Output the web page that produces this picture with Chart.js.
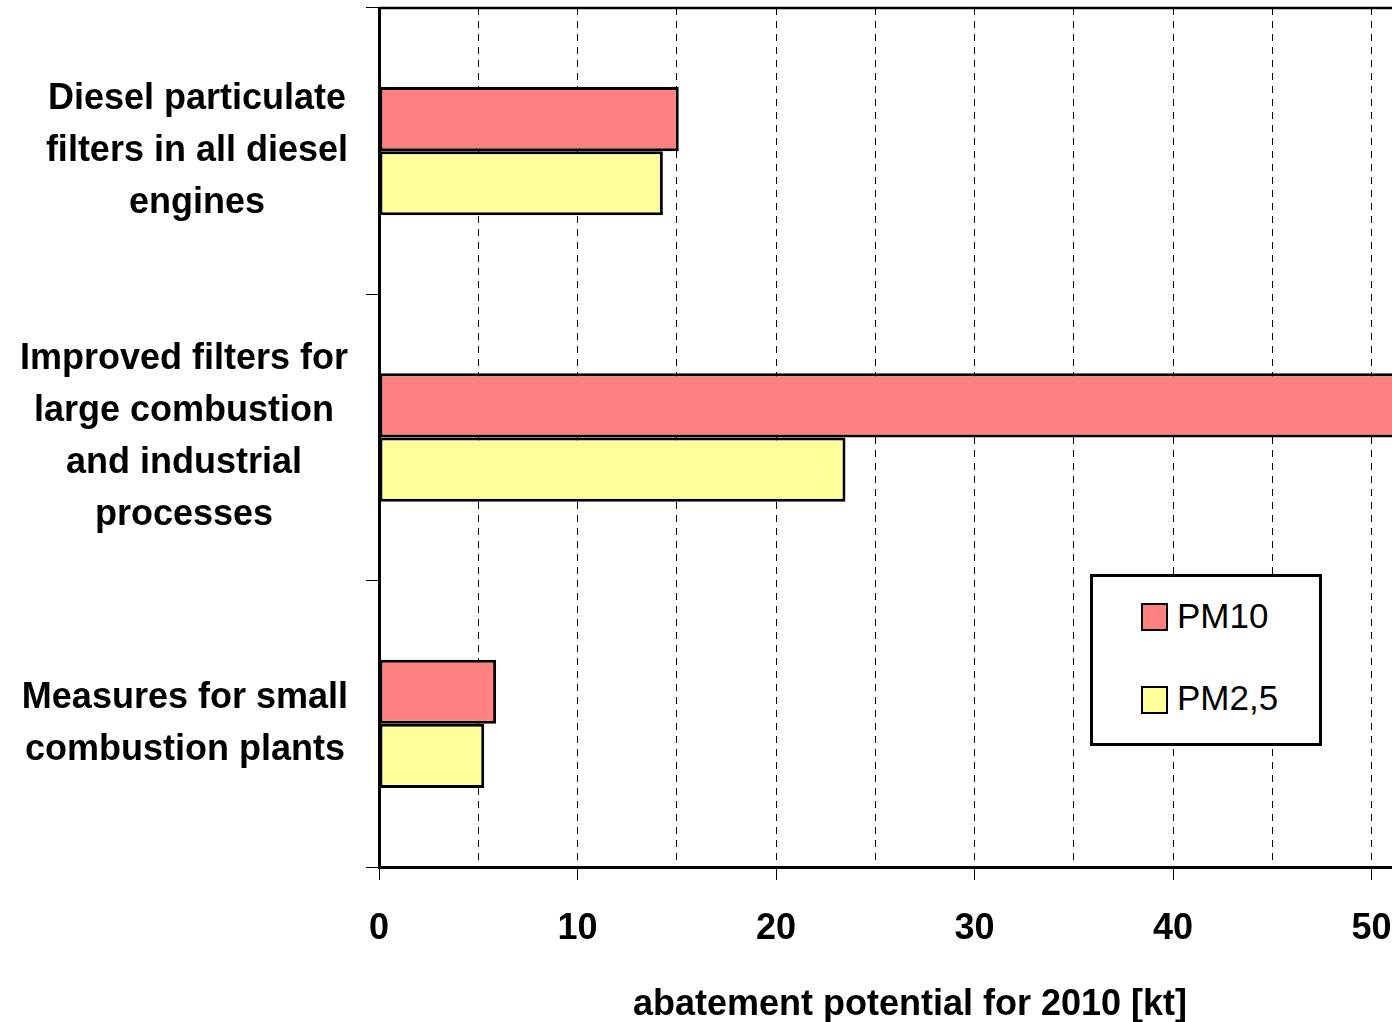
<!DOCTYPE html>
<html>
<head>
<meta charset="utf-8">
<title>Abatement potential for 2010</title>
<script src="https://cdn.jsdelivr.net/npm/chart.js@4.4.1/dist/chart.umd.min.js"></script>
<style>
  html, body { margin: 0; padding: 0; background: #fff; overflow: hidden; }
  #wrap { position: relative; width: 1392px; height: 1022px; overflow: hidden; }
  #chart { position: absolute; left: 0; top: 0; }
  #legend {
    position: absolute; left: 1090px; top: 574px; width: 232px; height: 172px;
    box-sizing: border-box; border: 3px solid #000; background: #fff;
    font-family: "Liberation Sans", Arial, sans-serif; font-size: 35px; color: #000;
  }
  #legend .sw { position: absolute; left: 48px; width: 27px; height: 28px; box-sizing: border-box; border: 2px solid #000; }
  #legend .txt { position: absolute; left: 84px; line-height: 35px; white-space: nowrap; }
</style>
</head>
<body>
<div id="wrap">
  <canvas id="chart" width="1441" height="1022"></canvas>
  <div id="legend"></div>
</div>
<script>
// Measures (top to bottom), each label split into its display lines
const categories = [
  ['Diesel particulate', 'filters in all diesel', 'engines'],
  ['Improved filters for', 'large combustion', 'and industrial', 'processes'],
  ['Measures for small', 'combustion plants']
];
const seriesNames = ['PM10', 'PM2,5'];
// abatement potential in kt
const pm10 = [15.1, 56, 5.9];
const pm25 = [14.3, 23.5, 5.3];
const xTicks = [0, 5, 10, 15, 20, 25, 30, 35, 40, 45, 50];
const xTitle = 'abatement potential for 2010 [kt]';

const FONT = '"Liberation Sans", Arial, sans-serif';
const colors = ['#FF8080', '#FFFF99'];

Chart.defaults.font.family = FONT;
Chart.defaults.color = '#000';

// Multi-line category labels, each block centred on its own widest line
const categoryLabels = {
  id: 'categoryLabels',
  afterDraw(chart) {
    const { ctx } = chart;
    const y = chart.scales.y;
    ctx.save();
    ctx.font = 'bold 36px ' + FONT;
    ctx.fillStyle = '#000';
    ctx.textAlign = 'center';
    ctx.textBaseline = 'middle';
    const right = y.right - 31;
    chart.data.labels.forEach((lines, i) => {
      const cy = y.getPixelForValue(i);
      const w = Math.max(...lines.map(l => ctx.measureText(l).width));
      const cx = right - w / 2;
      lines.forEach((l, j) => ctx.fillText(l, cx, cy + (j - (lines.length - 1) / 2) * 52));
    });
    ctx.restore();
  }
};

// Top edge of the plot frame
const frameTop = {
  id: 'frameTop',
  afterDraw(chart) {
    const { ctx, chartArea: a } = chart;
    ctx.save();
    ctx.strokeStyle = '#000';
    ctx.lineWidth = 2.5;
    ctx.beginPath();
    ctx.moveTo(a.left, a.top);
    ctx.lineTo(a.right, a.top);
    ctx.stroke();
    ctx.restore();
  }
};

new Chart(document.getElementById('chart'), {
  type: 'bar',
  data: {
    labels: categories,
    datasets: [
      { label: seriesNames[0], data: pm10, backgroundColor: colors[0] },
      { label: seriesNames[1], data: pm25, backgroundColor: colors[1] }
    ]
  },
  options: {
    indexAxis: 'y',
    responsive: false,
    animation: false,
    layout: { padding: { top: 8, left: 0, right: 0, bottom: 0 } },
    datasets: {
      bar: {
        borderColor: '#000',
        borderWidth: 3,
        borderSkipped: false,
        categoryPercentage: 0.448,
        barPercentage: 1.0
      }
    },
    plugins: {
      legend: { display: false },
      tooltip: { enabled: false }
    },
    scales: {
      x: {
        type: 'linear',
        min: 0,
        max: 53.5,
        afterBuildTicks: s => { s.ticks = xTicks.map(v => ({ value: v })); },
        afterFit: s => { s.height = 155; },
        ticks: {
          autoSkip: false,
          maxRotation: 0,
          padding: 27,
          color: '#000',
          font: { size: 36, weight: 'bold' },
          callback: v => (v % 10 === 0 ? String(v) : '')
        },
        grid: {
          color: '#000',
          lineWidth: 1,
          tickLength: 13,
          tickWidth: 1,
          tickBorderDash: [],
          tickColor: c => (c.tick && c.tick.value % 10 === 0 ? '#000' : 'rgba(0,0,0,0)')
        },
        border: { color: '#000', width: 3, dash: [7, 6] },
        title: {
          display: true,
          text: xTitle,
          color: '#000',
          font: { size: 36, weight: 'bold' },
          padding: { top: 0, bottom: -5 }
        }
      },
      y: {
        type: 'category',
        offset: true,
        afterFit: s => { s.width = 379; },
        ticks: { display: false },
        grid: {
          offset: true,
          drawOnChartArea: false,
          drawTicks: true,
          tickLength: 13,
          color: '#000',
          lineWidth: 1
        },
        border: { color: '#000', width: 3 }
      }
    }
  },
  plugins: [categoryLabels, frameTop]
});

// Legend box
const legend = document.getElementById('legend');
const swTops = [26, 109];
const txtTops = [21, 103];
seriesNames.forEach((name, i) => {
  const sw = document.createElement('div');
  sw.className = 'sw';
  sw.style.top = swTops[i] + 'px';
  sw.style.background = colors[i];
  legend.appendChild(sw);
  const t = document.createElement('div');
  t.className = 'txt';
  t.style.top = txtTops[i] + 'px';
  t.textContent = name;
  legend.appendChild(t);
});
</script>
</body>
</html>
